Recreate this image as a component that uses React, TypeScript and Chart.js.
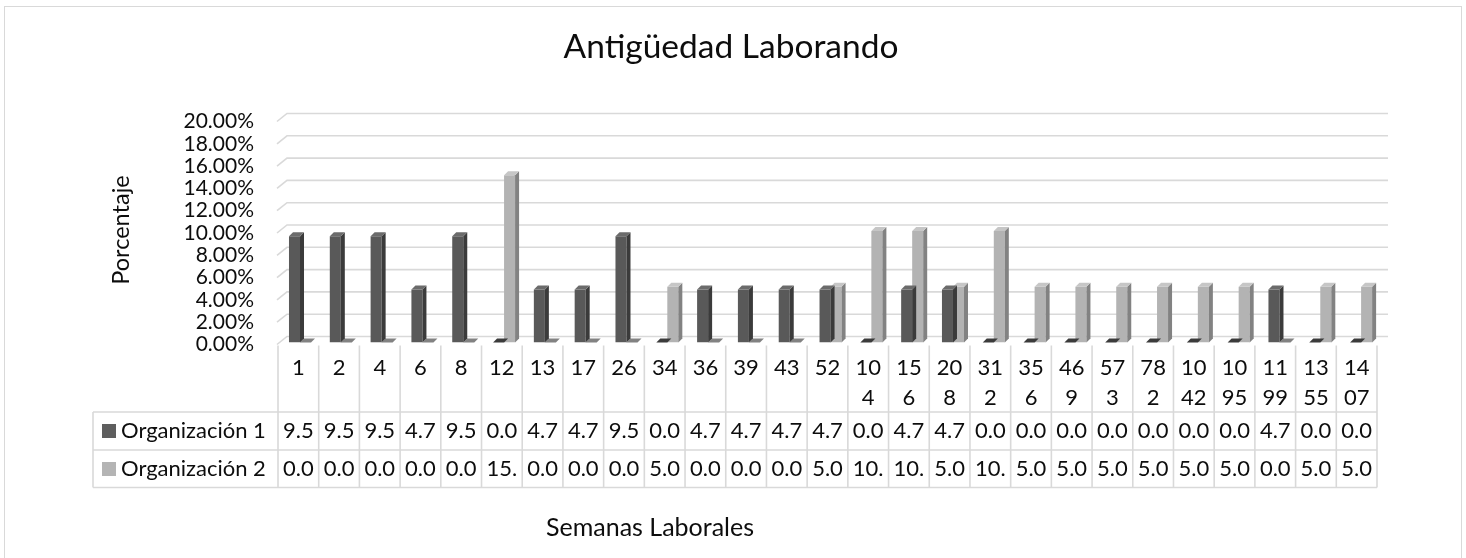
import React, { useEffect, useRef } from "react";
import { Chart, registerables } from "chart.js";

Chart.register(...registerables);

const TITLE = "Antigüedad Laborando";
const X_TITLE = "Semanas Laborales";
const Y_TITLE = "Porcentaje";

const categories = [
  "1", "2", "4", "6", "8", "12", "13", "17", "26", "34", "36", "39", "43", "52",
  "104", "156", "208", "312", "356", "469", "573", "782", "1042", "1095", "1199", "1355", "1407",
];

const seriesNames = ["Organización 1", "Organización 2"];

const org1 = [
  9.52, 9.52, 9.52, 4.76, 9.52, 0, 4.76, 4.76, 9.52, 0, 4.76, 4.76, 4.76, 4.76,
  0, 4.76, 4.76, 0, 0, 0, 0, 0, 0, 0, 4.76, 0, 0,
];
const org2 = [
  0, 0, 0, 0, 0, 15, 0, 0, 0, 5, 0, 0, 0, 5,
  10, 10, 5, 10, 5, 5, 5, 5, 5, 5, 0, 5, 5,
];

const Y_MIN = 0;
const Y_MAX = 20;
const Y_STEP = 2;

const FRONT = ["#595959", "#b3b3b3"];
const SIDE = ["#3b3b3b", "#828282"];
const TOP = ["#6b6b6b", "#c6c6c6"];
const LEGEND = ["#5e5e5e", "#b4b4b4"];

const FONT = "Lato, 'Open Sans', sans-serif";
const TEXT = "#0d0d0d";
const GRID = "#d9d9d9";

// 3D perspective: table columns sit slightly left of the bar positions
const TABLE_SHIFT_L = 1.6;
const TABLE_SHIFT_R = 4.5;
const DX = 4;
const DY = 4;

function splitLabel(s: string): string[] {
  if (s.length <= 2) return [s];
  return [s.slice(0, 2), s.slice(2)];
}

function cellText(v: number): string {
  return (v.toFixed(2) + "%").slice(0, 3);
}

function tableGeom(chart: any) {
  const x = chart.scales.x;
  const left = x.left - TABLE_SHIFT_L;
  const right = x.right - TABLE_SHIFT_R;
  const n = categories.length;
  const colW = (right - left) / n;
  return { left, right, n, colW };
}

const decoPlugin = {
  id: "deco",
  beforeDraw(chart: any) {
    const ctx = chart.ctx;
    ctx.save();
    ctx.fillStyle = "#ffffff";
    ctx.fillRect(0, 0, chart.width, chart.height);
    ctx.strokeStyle = GRID;
    ctx.lineWidth = 1;
    ctx.strokeRect(4.5, 6.5, 1457, 570);
    ctx.restore();
  },
  beforeDatasetsDraw(chart: any) {
    const ctx = chart.ctx;
    const y = chart.scales.y;
    const g = tableGeom(chart);
    ctx.save();
    ctx.strokeStyle = GRID;
    ctx.lineWidth = 1.6;
    y.ticks.forEach((t: any) => {
      const yf = y.getPixelForValue(t.value);
      ctx.beginPath();
      ctx.moveTo(g.left - 1, yf + 2);
      ctx.lineTo(g.left + 9, yf - 6);
      ctx.lineTo(g.right + 11, yf - 6);
      ctx.stroke();
    });
    ctx.fillStyle = TEXT;
    ctx.font = `21px ${FONT}`;
    ctx.textAlign = "right";
    ctx.textBaseline = "middle";
    y.ticks.forEach((t: any) => {
      const yf = y.getPixelForValue(t.value);
      ctx.fillText(Number(t.value).toFixed(2) + "%", 254, yf + 2);
    });
    ctx.restore();
  },
  afterDatasetDraw(chart: any, args: any) {
    const ctx = chart.ctx;
    const i = args.index;
    const meta = chart.getDatasetMeta(i);
    const data = chart.data.datasets[i].data;
    ctx.save();
    meta.data.forEach((bar: any, j: number) => {
      const v = data[j];
      const w = bar.width;
      const x0 = bar.x - w / 2;
      const x1 = bar.x + w / 2;
      const top = bar.y;
      const base = bar.base;
      if (v === 0) {
        ctx.fillStyle = SIDE[i];
        ctx.beginPath();
        ctx.moveTo(x0, base);
        ctx.lineTo(x1, base);
        ctx.lineTo(x1 + DX, base - DY);
        ctx.lineTo(x0 + DX, base - DY);
        ctx.closePath();
        ctx.fill();
        return;
      }
      ctx.fillStyle = SIDE[i];
      ctx.beginPath();
      ctx.moveTo(x1, top);
      ctx.lineTo(x1 + DX, top - DY);
      ctx.lineTo(x1 + DX, base - DY);
      ctx.lineTo(x1, base);
      ctx.closePath();
      ctx.fill();
      ctx.fillStyle = TOP[i];
      ctx.beginPath();
      ctx.moveTo(x0, top);
      ctx.lineTo(x0 + DX, top - DY);
      ctx.lineTo(x1 + DX, top - DY);
      ctx.lineTo(x1, top);
      ctx.closePath();
      ctx.fill();
    });
    ctx.restore();
  },
  afterDraw(chart: any) {
    const ctx = chart.ctx;
    const y = chart.scales.y;
    const g = tableGeom(chart);
    const headTop = y.getPixelForValue(0) + 3;
    const r1 = 412;
    const r2 = 450;
    const r3 = 487.5;
    const legendLeft = 93;

    ctx.save();
    ctx.strokeStyle = GRID;
    ctx.lineWidth = 1.6;
    for (let k = 0; k <= g.n; k++) {
      const xx = g.left + k * g.colW;
      ctx.beginPath();
      ctx.moveTo(xx, headTop);
      ctx.lineTo(xx, r3);
      ctx.stroke();
    }
    ctx.beginPath();
    ctx.moveTo(legendLeft, r1);
    ctx.lineTo(legendLeft, r3);
    ctx.stroke();
    [r1, r2, r3].forEach((ry) => {
      ctx.beginPath();
      ctx.moveTo(legendLeft, ry);
      ctx.lineTo(g.right, ry);
      ctx.stroke();
    });

    ctx.fillStyle = TEXT;
    ctx.font = `22px ${FONT}`;
    ctx.textAlign = "center";
    ctx.textBaseline = "middle";
    categories.forEach((c, k) => {
      const cx = g.left + (k + 0.5) * g.colW;
      splitLabel(c).forEach((ln, li) => ctx.fillText(ln, cx, 368 + li * 30));
    });
    const rows = [org1, org2];
    const rowY = [431, 469];
    rows.forEach((arr, ri) => {
      arr.forEach((v, k) => {
        const cx = g.left + (k + 0.5) * g.colW;
        ctx.fillText(cellText(v), cx, rowY[ri]);
      });
    });
    ctx.textAlign = "left";
    seriesNames.forEach((nm, ri) => {
      ctx.fillStyle = LEGEND[ri];
      ctx.fillRect(102, rowY[ri] - 7, 14, 14);
      ctx.fillStyle = TEXT;
      ctx.fillText(nm, 121, rowY[ri]);
    });

    ctx.textAlign = "center";
    ctx.textBaseline = "alphabetic";
    ctx.font = `33.5px ${FONT}`;
    ctx.fillText(TITLE, 731, 58);
    ctx.textBaseline = "middle";
    ctx.font = `25px ${FONT}`;
    ctx.fillText(X_TITLE, 650, 528);
    ctx.font = `23.5px ${FONT}`;
    ctx.translate(121, 230);
    ctx.rotate(-Math.PI / 2);
    ctx.fillText(Y_TITLE, 0, 0);
    ctx.restore();
  },
};

export default function App() {
  const ref = useRef<HTMLCanvasElement | null>(null);
  useEffect(() => {
    if (!ref.current) return;
    const chart = new Chart(ref.current, {
      type: "bar",
      data: {
        labels: categories,
        datasets: [
          { label: seriesNames[0], data: org1, backgroundColor: FRONT[0], borderWidth: 0 },
          { label: seriesNames[1], data: org2, backgroundColor: FRONT[1], borderWidth: 0 },
        ],
      },
      options: {
        responsive: false,
        animation: false,
        devicePixelRatio: 1,
        layout: { padding: { left: 279.6, right: 1466 - 1381.5, top: 119.5, bottom: 558 - 342.5 } },
        datasets: { bar: { categoryPercentage: 0.54, barPercentage: 1.0 } },
        plugins: { legend: { display: false }, title: { display: false }, tooltip: { enabled: false } },
        scales: {
          x: { display: false },
          y: { display: false, min: Y_MIN, max: Y_MAX, ticks: { stepSize: Y_STEP } },
        },
      },
      plugins: [decoPlugin],
    });
    return () => chart.destroy();
  }, []);
  return (
    <div style={{ position: "fixed", left: 0, top: 0, width: 1466, height: 558, background: "#fff" }}>
      <canvas ref={ref} width={1466} height={558} style={{ display: "block" }} />
    </div>
  );
}
